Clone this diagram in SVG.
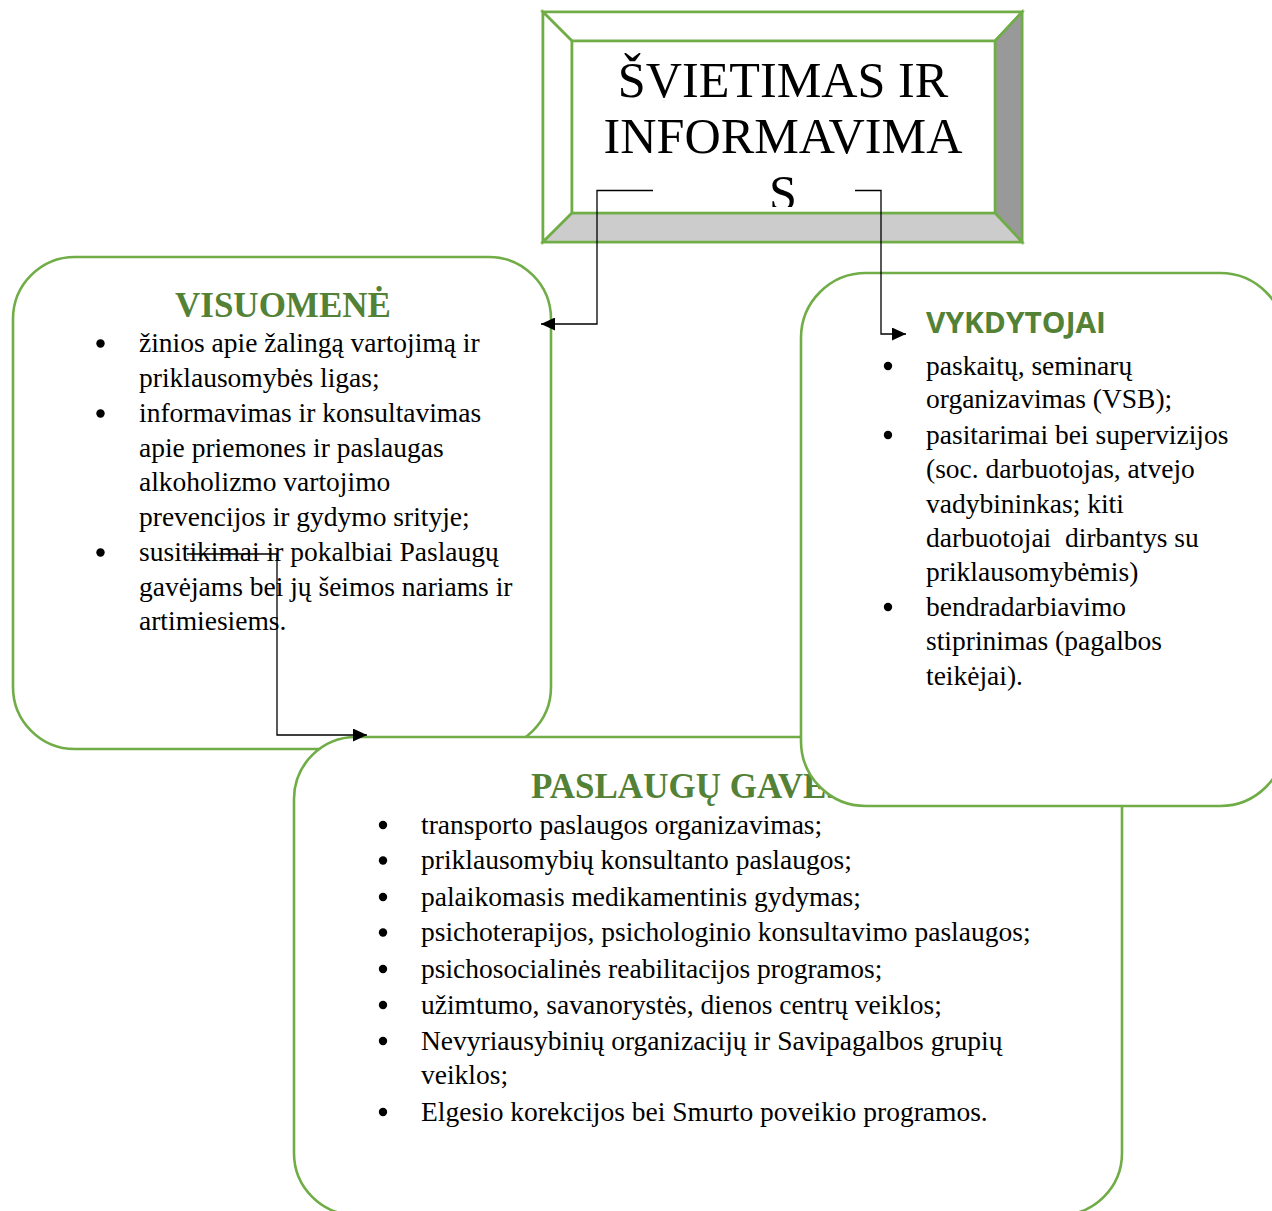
<svg xmlns="http://www.w3.org/2000/svg" width="1272" height="1211" viewBox="0 0 1272 1211">
<style>
.box{fill:#ffffff;stroke:#70AD47;stroke-width:2.6}
.bevel{stroke:#70AD47;stroke-width:2.6;stroke-linejoin:miter}
.title{font-family:"Liberation Serif","Times New Roman",serif;font-size:50.2px;fill:#000000}
.head{font-family:"Liberation Serif","Times New Roman",serif;font-size:35px;font-weight:bold;fill:#538135}
.headsans{font-family:"Open Sans","Liberation Sans",sans-serif;font-size:28px;font-weight:bold;fill:#538135}
.body{font-family:"Liberation Serif","Times New Roman",serif;font-size:27.5px;fill:#000000}
.bullet{fill:#000000}
.conn{fill:none;stroke:#000000;stroke-width:1.3}
</style>
<defs>
<marker id="arrow" markerUnits="userSpaceOnUse" markerWidth="15" markerHeight="13" refX="14" refY="6.5" orient="auto">
<path d="M0,0 L14,6.5 L0,13 z" fill="#000000"/>
</marker>
<clipPath id="titleclip"><rect x="572" y="41" width="423" height="166"/></clipPath>
</defs>
<rect width="1272" height="1211" fill="#ffffff"/>

<g id="node-svietimas">
<rect class="box" x="543" y="12" width="479" height="230"/>
<polygon class="bevel" fill="#ffffff" points="543,12 1022,12 995,41 572,41"/>
<polygon class="bevel" fill="#ffffff" points="543,12 572,41 572,213 543,242"/>
<polygon class="bevel" fill="#999999" points="1022,12 1022,242 995,213 995,41"/>
<polygon class="bevel" fill="#cccccc" points="543,242 572,213 995,213 1022,242"/>
<rect class="box" x="572" y="41" width="423" height="172"/>
<g clip-path="url(#titleclip)">
<text class="title" text-anchor="middle" x="783" y="96.7">ŠVIETIMAS IR</text>
<text class="title" text-anchor="middle" x="783" y="153.3">INFORMAVIMA</text>
<text class="title" text-anchor="middle" x="783" y="210">S</text>
</g>
</g>

<g id="node-visuomene">
<rect class="box" x="13" y="257" width="538" height="492" rx="62" ry="62"/>
<text class="head" x="175" y="317">VISUOMENĖ</text>
<circle class="bullet" cx="100.5" cy="343.5" r="4.2"/>
<circle class="bullet" cx="100.5" cy="413.5" r="4.2"/>
<circle class="bullet" cx="100.5" cy="552.5" r="4.2"/>
<text class="body" x="139" y="352">žinios apie žalingą vartojimą ir</text>
<text class="body" x="139" y="386.7">priklausomybės ligas;</text>
<text class="body" x="139" y="422">informavimas ir konsultavimas</text>
<text class="body" x="139" y="456.5">apie priemones ir paslaugas</text>
<text class="body" x="139" y="491">alkoholizmo vartojimo</text>
<text class="body" x="139" y="525.5">prevencijos ir gydymo srityje;</text>
<text class="body" x="139" y="561">susitikimai ir pokalbiai Paslaugų</text>
<text class="body" x="139" y="595.5">gavėjams bei jų šeimos nariams ir</text>
<text class="body" x="139" y="630">artimiesiems.</text>
</g>

<g id="node-paslaugu-gavejai">
<rect class="box" x="294" y="737" width="828" height="478" rx="62" ry="62"/>
<text class="head" x="531" y="798">PASLAUGŲ GAVĖJAI</text>
<circle class="bullet" cx="383" cy="825" r="4.2"/>
<circle class="bullet" cx="383" cy="860.5" r="4.2"/>
<circle class="bullet" cx="383" cy="897" r="4.2"/>
<circle class="bullet" cx="383" cy="932.5" r="4.2"/>
<circle class="bullet" cx="383" cy="969" r="4.2"/>
<circle class="bullet" cx="383" cy="1005" r="4.2"/>
<circle class="bullet" cx="383" cy="1041" r="4.2"/>
<circle class="bullet" cx="383" cy="1112" r="4.2"/>
<text class="body" x="421" y="833.5">transporto paslaugos organizavimas;</text>
<text class="body" x="421" y="869">priklausomybių konsultanto paslaugos;</text>
<text class="body" x="421" y="905.5">palaikomasis medikamentinis gydymas;</text>
<text class="body" x="421" y="941">psichoterapijos, psichologinio konsultavimo paslaugos;</text>
<text class="body" x="421" y="977.5">psichosocialinės reabilitacijos programos;</text>
<text class="body" x="421" y="1013.5">užimtumo, savanorystės, dienos centrų veiklos;</text>
<text class="body" x="421" y="1049.5">Nevyriausybinių organizacijų ir Savipagalbos grupių</text>
<text class="body" x="421" y="1083.5">veiklos;</text>
<text class="body" x="421" y="1120.5">Elgesio korekcijos bei Smurto poveikio programos.</text>
</g>

<g id="node-vykdytojai">
<rect class="box" x="801" y="273" width="484" height="533" rx="65" ry="65"/>
<text class="headsans" x="926" y="333" textLength="180" lengthAdjust="spacingAndGlyphs">VYKDYTOJAI</text>
<circle class="bullet" cx="888" cy="366" r="4.2"/>
<circle class="bullet" cx="888" cy="435" r="4.2"/>
<circle class="bullet" cx="888" cy="607" r="4.2"/>
<text class="body" x="926" y="374.5">paskaitų, seminarų</text>
<text class="body" x="926" y="408">organizavimas (VSB);</text>
<text class="body" x="926" y="443.5">pasitarimai bei supervizijos</text>
<text class="body" x="926" y="478">(soc. darbuotojas, atvejo</text>
<text class="body" x="926" y="512.5">vadybininkas; kiti</text>
<text class="body" x="926" y="546.5" xml:space="preserve">darbuotojai  dirbantys su</text>
<text class="body" x="926" y="580.5">priklausomybėmis)</text>
<text class="body" x="926" y="615.5">bendradarbiavimo</text>
<text class="body" x="926" y="650">stiprinimas (pagalbos</text>
<text class="body" x="926" y="684.5">teikėjai).</text>
</g>

<g id="connectors">
<path class="conn" d="M653,190.5 H597 V324 H541" marker-end="url(#arrow)"/>
<path class="conn" d="M855,190.5 H881 V334 H906" marker-end="url(#arrow)"/>
<path class="conn" d="M187,554 H277 V735 H367" marker-end="url(#arrow)"/>
</g>
</svg>
